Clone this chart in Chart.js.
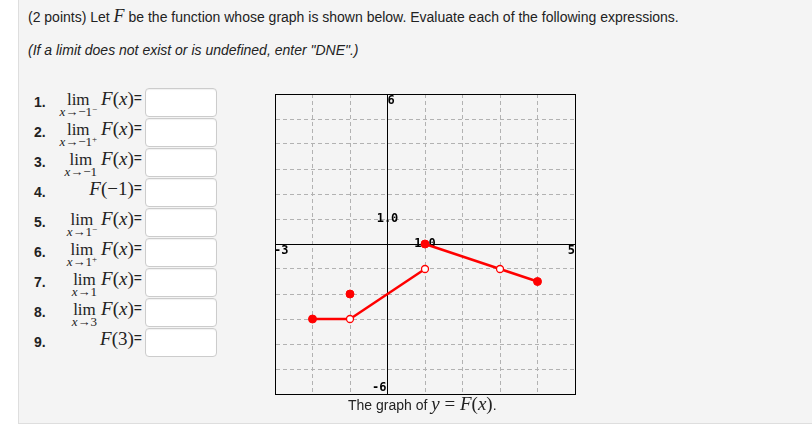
<!DOCTYPE html>
<html><head><meta charset="utf-8">
<script src="https://cdn.jsdelivr.net/npm/chart.js@4.4.1/dist/chart.umd.min.js"></script>
<style>
html,body{margin:0;padding:0;background:#fff;width:812px;height:425px;overflow:hidden;font-family:"Liberation Sans",Arial,sans-serif;color:#222;}
#panel{position:absolute;left:18px;top:0;width:800px;height:423px;background:#f4f4f4;border-left:1px solid #dedede;border-bottom:1px solid #dedede;}
.hdr{position:absolute;left:28px;font-size:14px;line-height:16px;white-space:nowrap;}
.mi{font-family:"Liberation Serif","Times New Roman",serif;font-style:italic;}
.row{position:absolute;left:0;width:230px;height:30px;}
.num{position:absolute;left:34px;top:7px;font-weight:bold;font-size:14px;line-height:15px;}
.expr{position:absolute;left:0;width:142px;top:2px;display:flex;justify-content:flex-end;align-items:baseline;white-space:nowrap;}
.m{font-family:"Liberation Serif","Times New Roman",serif;font-size:19px;line-height:18px;}
.lim{display:inline-flex;flex-direction:column;align-items:center;margin-right:4px;}
.lim .l{font-family:"Liberation Serif","Times New Roman",serif;font-size:17px;line-height:18px;}
.lim .s{font-family:"Liberation Serif","Times New Roman",serif;font-size:13px;line-height:11px;margin-top:-3px;}
.lim .s sup{font-size:9px;vertical-align:4px;line-height:0;}
.eq{font-size:14px;line-height:18px;position:relative;top:-2px;}
.box{position:absolute;left:145px;width:70px;height:27px;background:#fff;border:1px solid #ccc;border-radius:4px;box-shadow:inset 0 1px 1px rgba(0,0,0,0.06);}
#cv{position:absolute;left:270px;top:89px;}
#cap{position:absolute;left:348px;top:396px;font-size:14px;line-height:16px;white-space:nowrap;}
#cap .mm{font-family:"Liberation Serif","Times New Roman",serif;font-size:19px;}
</style></head>
<body>
<div id="panel"></div>
<div class="hdr" style="top:8px">(2 points) Let <span class="mi" style="font-size:18px">F</span> be the function whose graph is shown below. Evaluate each of the following expressions.</div>
<div class="hdr" style="top:42px;font-style:italic">(If a limit does not exist or is undefined, enter "DNE".)</div>

<div class="row" style="top:88px"><span class="num">1.</span><div class="expr"><span class="lim"><span class="l">lim</span><span class="s"><i>x</i>→−1<sup>−</sup></span></span><span class="m"><i>F</i>(<i>x</i>)</span><span class="eq">=</span></div></div>
<div class="row" style="top:118px"><span class="num">2.</span><div class="expr"><span class="lim"><span class="l">lim</span><span class="s"><i>x</i>→−1<sup>+</sup></span></span><span class="m"><i>F</i>(<i>x</i>)</span><span class="eq">=</span></div></div>
<div class="row" style="top:148px"><span class="num">3.</span><div class="expr"><span class="lim"><span class="l">lim</span><span class="s"><i>x</i>→−1</span></span><span class="m"><i>F</i>(<i>x</i>)</span><span class="eq">=</span></div></div>
<div class="row" style="top:178px"><span class="num">4.</span><div class="expr"><span class="m"><i>F</i>(−1)</span><span class="eq">=</span></div></div>
<div class="row" style="top:208px"><span class="num">5.</span><div class="expr"><span class="lim"><span class="l">lim</span><span class="s"><i>x</i>→1<sup>−</sup></span></span><span class="m"><i>F</i>(<i>x</i>)</span><span class="eq">=</span></div></div>
<div class="row" style="top:238px"><span class="num">6.</span><div class="expr"><span class="lim"><span class="l">lim</span><span class="s"><i>x</i>→1<sup>+</sup></span></span><span class="m"><i>F</i>(<i>x</i>)</span><span class="eq">=</span></div></div>
<div class="row" style="top:268px"><span class="num">7.</span><div class="expr"><span class="lim"><span class="l">lim</span><span class="s"><i>x</i>→1</span></span><span class="m"><i>F</i>(<i>x</i>)</span><span class="eq">=</span></div></div>
<div class="row" style="top:298px"><span class="num">8.</span><div class="expr"><span class="lim"><span class="l">lim</span><span class="s"><i>x</i>→3</span></span><span class="m"><i>F</i>(<i>x</i>)</span><span class="eq">=</span></div></div>
<div class="row" style="top:328px"><span class="num">9.</span><div class="expr"><span class="m"><i>F</i>(3)</span><span class="eq">=</span></div></div>

<div class="box" style="top:88px"></div>
<div class="box" style="top:118px"></div>
<div class="box" style="top:148px"></div>
<div class="box" style="top:178px"></div>
<div class="box" style="top:208px"></div>
<div class="box" style="top:238px"></div>
<div class="box" style="top:268px"></div>
<div class="box" style="top:298px"></div>
<div class="box" style="top:328px"></div>

<canvas id="cv" width="312" height="310"></canvas>
<div id="cap">The graph of <span class="mm"><i>y</i> = <i>F</i>(<i>x</i>)</span>.</div>

<script>
// axis ranges
const xRange = [-3, 5];
const yRange = [-6, 6];
// line pieces of the graph
const piece1X = [-2, -1], piece1Y = [-3, -3];
const piece2X = [-1, 1],  piece2Y = [-3, -1];
const piece3X = [1, 3, 4], piece3Y = [0, -1, -1.5];
// solid (included) points
const filledX = [-2, -1, 1, 4], filledY = [-3, -2, 0, -1.5];
// open (excluded) points
const openX = [-1, 1, 3], openY = [-3, -1, -1];
// axis labels drawn on the graph
const axisLabelText = ['-3', '5', '-6', '6', '1.0', '1.0'];
const axisLabelX = [-3, 5, 0, 0, 0, 1];
const axisLabelY = [0, 0, -6, 6, 1, 0];
// label anchoring (style)
const labelAlign = ['left', 'right', 'right', 'left', 'center', 'center'];
const labelBase = ['top', 'top', 'bottom', 'top', 'middle', 'middle'];
const labelDx = [-1, 0, -1, 0, 0, 0];
const labelDy = [1, 1, 0, 1, 0, 0];

const zip = (xs, ys) => xs.map((x, i) => ({x: x, y: ys[i]}));
const RED = '#ff0000';

const labelPlugin = {
  id: 'axisLabels',
  beforeDatasetsDraw(chart) {
    const c = chart.ctx, xs = chart.scales.x, ys = chart.scales.y;
    c.save();
    c.font = 'bold 12px "DejaVu Sans Mono", "Liberation Mono", monospace';
    c.fillStyle = '#000';
    axisLabelText.forEach((t, i) => {
      c.textAlign = labelAlign[i];
      c.textBaseline = labelBase[i];
      c.fillText(t, xs.getPixelForValue(axisLabelX[i]) + labelDx[i], ys.getPixelForValue(axisLabelY[i]) + labelDy[i]);
    });
    c.restore();
  }
};

function gridColor(range) {
  return ctx => {
    if (!ctx.tick) return '#000';
    const v = ctx.tick.value;
    return (v === 0 || v === range[0] || v === range[1]) ? '#000' : '#b2b2b2';
  };
}
function gridDash(range) {
  return ctx => {
    if (!ctx.tick) return [];
    const v = ctx.tick.value;
    return (v === 0 || v === range[0] || v === range[1]) ? [] : [4, 3];
  };
}

new Chart(document.getElementById('cv'), {
  type: 'scatter',
  data: {
    datasets: [
      {data: zip(openX, openY), showLine: false, pointRadius: 3.5, pointBackgroundColor: '#fff', pointBorderColor: RED, pointBorderWidth: 1.3, order: 0},
      {data: zip(filledX, filledY), showLine: false, pointRadius: 4, pointBackgroundColor: RED, pointBorderColor: RED, pointBorderWidth: 1, order: 0},
      {data: zip(piece1X, piece1Y), showLine: true, borderColor: RED, borderWidth: 2.5, pointRadius: 0, order: 1},
      {data: zip(piece2X, piece2Y), showLine: true, borderColor: RED, borderWidth: 2.5, pointRadius: 0, order: 1},
      {data: zip(piece3X, piece3Y), showLine: true, borderColor: RED, borderWidth: 2.5, pointRadius: 0, order: 1}
    ]
  },
  options: {
    responsive: false,
    animation: false,
    devicePixelRatio: 1,
    layout: {autoPadding: false, padding: {left: 5, top: 5, right: 7, bottom: 5}},
    plugins: {legend: {display: false}, tooltip: {enabled: false}},
    elements: {point: {hoverRadius: 4}},
    scales: {
      x: {
        type: 'linear', min: xRange[0], max: xRange[1],
        ticks: {display: false, stepSize: 1},
        grid: {drawTicks: false, color: gridColor(xRange), lineWidth: 1},
        border: {display: true, color: '#000', width: 1, dash: gridDash(xRange)}
      },
      y: {
        type: 'linear', min: yRange[0], max: yRange[1],
        ticks: {display: false, stepSize: 1},
        grid: {drawTicks: false, color: gridColor(yRange), lineWidth: 1},
        border: {display: true, color: '#000', width: 1, dash: gridDash(yRange)}
      }
    }
  },
  plugins: [labelPlugin]
});
</script>
</body></html>
